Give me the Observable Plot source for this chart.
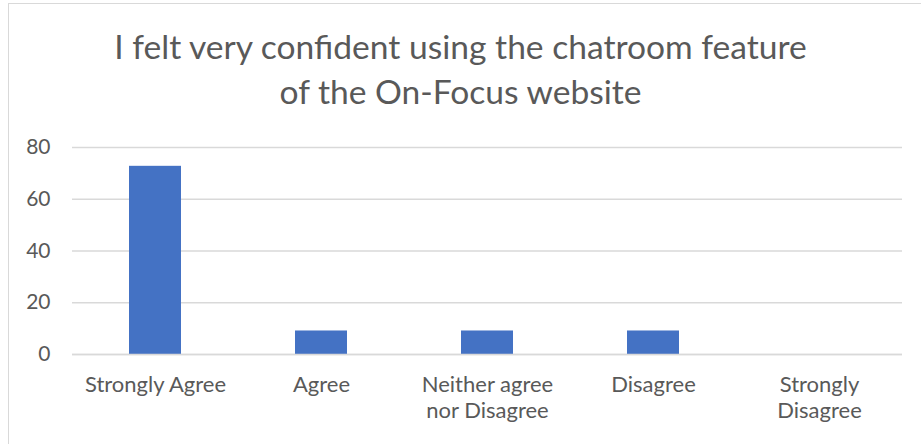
<!DOCTYPE html>
<html>
<head>
<meta charset="utf-8">
<script src="https://cdn.jsdelivr.net/npm/d3@7"></script>
<script src="https://cdn.jsdelivr.net/npm/@observablehq/plot@0.6"></script>
<style>
  html, body { margin: 0; padding: 0; background: #fff; }
  #wrap { position: relative; width: 921px; height: 444px; overflow: hidden; font-family: Lato, "Open Sans", sans-serif; }
  #frame { position: absolute; left: 8px; top: 3px; width: 1000px; height: 1000px; border-left: 1.5px solid #d9d9d9; border-top: 1.5px solid #d9d9d9; box-sizing: border-box; }
  #title { position: absolute; left: 0; top: 24px; width: 921px; text-align: center; color: #595959; font-size: 33.6px; line-height: 45px; font-family: Lato, sans-serif; }
  #chart { position: absolute; left: 0; top: 0; }
</style>
</head>
<body>
<div id="wrap">
  <div id="frame"></div>
  <div id="chart"></div>
  <div id="title">I felt very confident using the chatroom feature<br>of the On-Focus website</div>
</div>
<script>
const categories = ["Strongly Agree", "Agree", "Neither agree nor Disagree", "Disagree", "Strongly Disagree"];
const tickLabels = ["Strongly Agree", "Agree", "Neither agree\nnor Disagree", "Disagree", "Strongly\nDisagree"];
const values = [72.73, 9.09, 9.09, 9.09, 0];
const yTicks = [0, 20, 40, 60, 80];

const data = categories.map((c, i) => ({category: c, value: values[i]}));
const labelOf = new Map(categories.map((c, i) => [c, tickLabels[i]]));

const chart = Plot.plot({
  width: 921,
  height: 444,
  marginLeft: 72,
  marginRight: 19,
  marginTop: 147,
  marginBottom: 90,
  style: {fontFamily: "Lato, sans-serif", color: "#595959", background: "transparent"},
  x: {domain: categories, padding: 0, label: null},
  y: {domain: [0, 80], label: null},
  marks: [
    Plot.gridY(yTicks, {stroke: "#d9d9d9", strokeOpacity: 1, strokeWidth: 1.5}),
    Plot.barY(data, {x: "category", y: "value", fill: "#4472c4", insetLeft: 57, insetRight: 57}),
    Plot.ruleY([0], {stroke: "#d9d9d9", strokeWidth: 1.5}),
    Plot.axisY({ticks: yTicks, tickSize: 0, tickPadding: 22, fontSize: 21, fill: "#595959", label: null}),
    Plot.axisX({tickSize: 0, tickPadding: 19, fontSize: 22, fill: "#595959", lineHeight: 1.18, tickFormat: d => labelOf.get(d), label: null})
  ]
});
document.getElementById("chart").appendChild(chart);
</script>
</body>
</html>
